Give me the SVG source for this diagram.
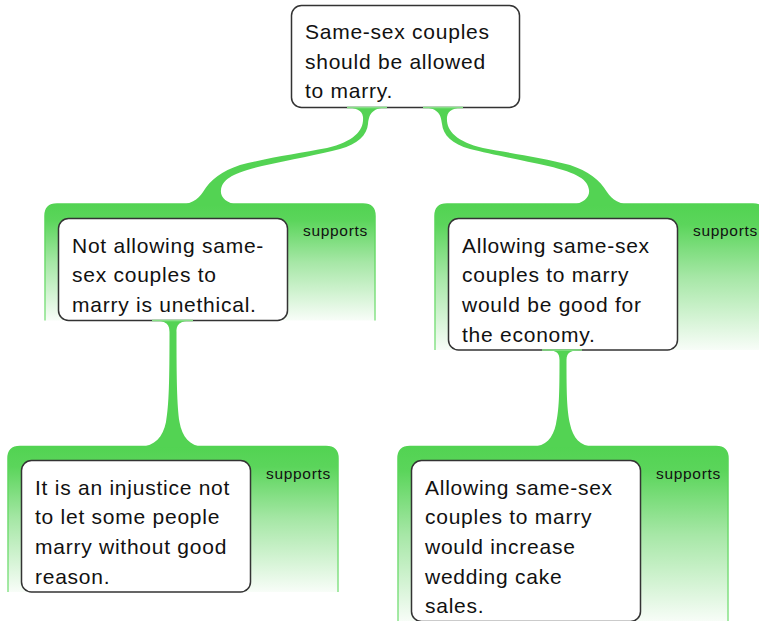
<svg xmlns="http://www.w3.org/2000/svg" width="759" height="621" viewBox="0 0 759 621">
<defs>
<linearGradient id="pf" x1="0" y1="0" x2="0" y2="1">
<stop offset="0" stop-color="#52d352"/>
<stop offset="0.14" stop-color="#5bd55b"/>
<stop offset="0.5" stop-color="#a6e7a6"/>
<stop offset="1" stop-color="#f8fdf8"/>
</linearGradient>
<linearGradient id="ps" x1="0" y1="0" x2="0" y2="1">
<stop offset="0" stop-color="#52d352"/>
<stop offset="1" stop-color="#8ae38a"/>
</linearGradient>
<style>
.panel{fill:url(#pf);stroke:url(#ps);stroke-width:1.5}
.box{fill:#ffffff;stroke:#333333;stroke-width:1.5}
.t{font-family:"Liberation Sans",Arial,sans-serif;font-size:21px;letter-spacing:0.75px;fill:#111111}
.rel{font-family:"Liberation Sans",Arial,sans-serif;font-size:15.5px;letter-spacing:0.7px;fill:#111111;text-anchor:end}
.con{fill:#53d353}
.stub{fill:#86e086}
</style>
</defs>

<g id="node-top">
<rect class="box" x="291.5" y="5.5" width="228" height="102" rx="10"/>
<text class="t" x="305" y="39">Same-sex couples</text>
<text class="t" x="305" y="68.7">should be allowed</text>
<text class="t" x="305" y="98.4">to marry.</text>
</g>

<g id="node-unethical">
<path class="panel" d="M45,320.5 V216 Q45,204 57,204 H363 Q375,204 375,216 V320.5"/>
<text class="rel" x="368" y="236">supports</text>
<rect class="box" x="58.5" y="218.5" width="229" height="102" rx="10"/>
<text class="t" x="72" y="252.5">Not allowing same-</text>
<text class="t" x="72" y="282.2">sex couples to</text>
<text class="t" x="72" y="311.9">marry is unethical.</text>
</g>

<g id="node-economy">
<path class="panel" d="M435,350 V216 Q435,204 447,204 H753 Q765,204 765,216 V350"/>
<text class="rel" x="758" y="236">supports</text>
<rect class="box" x="448.5" y="218.5" width="229" height="131.5" rx="10"/>
<text class="t" x="462" y="252.5">Allowing same-sex</text>
<text class="t" x="462" y="282.2">couples to marry</text>
<text class="t" x="462" y="311.9">would be good for</text>
<text class="t" x="462" y="341.6">the economy.</text>
</g>

<g id="node-injustice">
<path class="panel" d="M8,592 V458.5 Q8,446.5 20,446.5 H326 Q338,446.5 338,458.5 V592"/>
<text class="rel" x="331" y="478.5">supports</text>
<rect class="box" x="21.5" y="460.5" width="229" height="131.5" rx="10"/>
<text class="t" x="35" y="494.5">It is an injustice not</text>
<text class="t" x="35" y="524.2">to let some people</text>
<text class="t" x="35" y="553.9">marry without good</text>
<text class="t" x="35" y="583.6">reason.</text>
</g>

<g id="node-cake">
<path class="panel" d="M398,622 V458.5 Q398,446.5 410,446.5 H716 Q728,446.5 728,458.5 V622"/>
<text class="rel" x="721" y="478.5">supports</text>
<rect class="box" x="411.5" y="460.5" width="229" height="161" rx="10"/>
<text class="t" x="425" y="494.5">Allowing same-sex</text>
<text class="t" x="425" y="524.2">couples to marry</text>
<text class="t" x="425" y="553.9">would increase</text>
<text class="t" x="425" y="583.6">wedding cake</text>
<text class="t" x="425" y="613.3">sales.</text>
</g>

<g id="connectors">
<path id="c-left" class="con" d="M345,107.5 C356,107.5 362,110 363,117 C364,130 355,141 327,148 C300,153 267,158 240,165 C222,171 210,180 203,192 C198,200 190,204.5 178,205 L238,205 C226,203 220,197 221,190 C222,180 232,173 262,166 C290,160 320,154 340,149 C358,144 367,135 368,124 C369,113 373,107.5 389,107.5 Z"/>
<path id="c-right" class="con" transform="translate(810,0) scale(-1,1)" d="M345,107.5 C356,107.5 362,110 363,117 C364,130 355,141 327,148 C300,153 267,158 240,165 C222,171 210,180 203,192 C198,200 190,204.5 178,205 L238,205 C226,203 220,197 221,190 C222,180 232,173 262,166 C290,160 320,154 340,149 C358,144 367,135 368,124 C369,113 373,107.5 389,107.5 Z"/>
<path id="c-left-down" class="con" d="M151,320.5 C165,320.5 169.5,323 169.5,332 C169.5,380 169,405 166,422 C163,437 155,446 140,447 L203,447 C190,446 182,437 179.5,422 C177,405 176.5,380 176.5,332 C176.5,323 181,320.5 195,320.5 Z"/>
<path id="c-right-down" class="con" d="M542,350 C556,350 559.5,352 559.5,360 C559.5,395 559,410 556,424 C553,438 546,446 532,447 L594,447 C580,446 573,438 570,424 C567,410 566.5,395 566.5,360 C566.5,352 571,350 584,350 Z"/>
<rect class="stub" x="347" y="106.7" width="40" height="1.6"/>
<rect class="stub" x="423" y="106.7" width="40" height="1.6"/>
<rect class="stub" x="152" y="319.7" width="41" height="1.6"/>
<rect class="stub" x="542" y="349.2" width="40" height="1.6"/>
</g>
</svg>
